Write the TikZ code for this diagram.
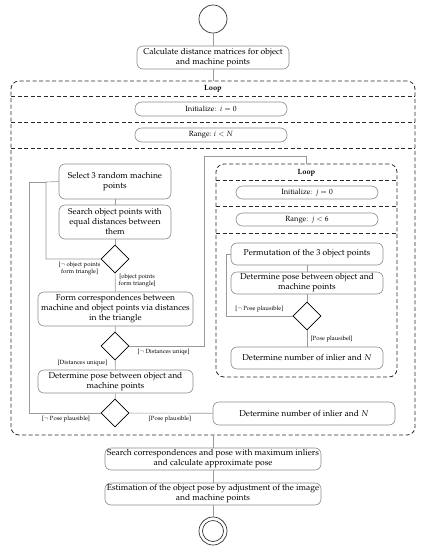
\documentclass[tikz,border=0pt]{standalone}
\usepackage[T1]{fontenc}
\usepackage{mathpazo}
\usetikzlibrary{shapes.geometric,calc}
\definecolor{lin}{HTML}{9A9A9A}
\definecolor{bor}{HTML}{8C8C8C}
\definecolor{dsh}{HTML}{2A2A2A}
\tikzset{
  act/.style={draw=bor, line width=0.6pt, rounded corners=6pt, fill=white, align=center,
    font=\fontsize{8.5}{10}\selectfont, inner sep=1pt},
  pill/.style={draw=bor, line width=0.6pt, rounded corners=6.5pt, fill=white, align=center,
    font=\fontsize{7.5}{9}\selectfont, inner sep=1pt, minimum height=14},
  loopbox/.style={draw=dsh, line width=0.8pt, dash pattern=on 4pt off 2.5pt, rounded corners=8pt, inner sep=0pt},
  sepline/.style={draw=dsh, line width=0.8pt, dash pattern=on 4pt off 2.5pt},
  dec/.style={diamond, draw=black, line width=0.7pt, fill=white, inner sep=0pt, minimum width=28, minimum height=28},
  conn/.style={draw=lin, line width=0.6pt},
  guard/.style={font=\fontsize{6}{7.5}\selectfont, align=center, inner sep=0.5pt},
  ttl/.style={font=\fontsize{7.5}{9}\selectfont\bfseries, inner sep=0pt},
  ring/.style={circle, draw=black!80, line width=0.7pt, inner sep=0pt},
}
\begin{document}
\begin{tikzpicture}[x=1pt,y=-1pt]
\useasboundingbox (0,0) rectangle (425,550);
% start / end
\node[ring, minimum size=28] (start) at (213,19) {};
\node[ring, minimum size=28] (end) at (213,531) {};
\node[ring, minimum size=21] (endin) at (213,531) {};

\node[act, minimum width=152, minimum height=23] (calc) at (213,57.5) {Calculate distance matrices for object\\and machine points};

% outer loop
\node[loopbox, minimum width=404, minimum height=354] (outer) at (213,258) {};
\node[ttl] (outerttl) at (213,89) {Loop};
\draw[sepline] (11,96) -- (415,96);
\draw[sepline] (11,122) -- (415,122);
\draw[sepline] (11,148) -- (415,148);
\node[pill, minimum width=152] (initi) at (211,109) {Initialize:\ \ $i=0$};
\node[pill, minimum width=152] (rangei) at (211,135) {Range: $i<N$};

% left branch
\node[act, minimum width=112, minimum height=35] (sel) at (115,181.5) {Select 3 random machine\\points};
\node[act, minimum width=112, minimum height=34] (srch) at (115,222) {Search object points with\\equal distances between\\them};
\node[dec] (d1) at (115,259) {};
\node[act, minimum width=155, minimum height=34] (form) at (115.5,309) {Form correspondences between\\machine and object points via distances\\in the triangle};
\node[dec] (d2) at (115,346) {};
\node[act, minimum width=155, minimum height=23] (pose) at (115.5,381.5) {Determine pose between object and\\machine points};
\node[dec] (d3) at (115,413) {};
\node[act, minimum width=182, minimum height=23] (detR) at (304,413.5) {Determine number of inlier and $N$};

% inner loop
\node[loopbox, minimum width=181, minimum height=213] (inner) at (306.5,270.5) {};
\node[ttl] (innerttl) at (306.5,173) {Loop};
\draw[sepline] (216,180) -- (397,180);
\draw[sepline] (216,206) -- (397,206);
\draw[sepline] (216,233) -- (397,233);
\node[pill, minimum width=142, minimum height=13] (initj) at (307,192.5) {Initialize:\ \ $j=0$};
\node[pill, minimum width=142, minimum height=13] (rangej) at (307,219.5) {Range:\ \ $j<6$};
\node[act, minimum width=152, minimum height=22] (perm) at (307,254) {Permutation of the 3 object points};
\node[act, minimum width=152, minimum height=22] (poseI) at (307,283) {Determine pose between object and\\machine points};
\node[dec] (d4) at (307,316) {};
\node[act, minimum width=152, minimum height=22] (detI) at (307,358) {Determine number of inlier and $N$};

% bottom
\node[act, minimum width=216, minimum height=22] (srchC) at (213,459) {Search correspondences and pose with maximum inliers\\and calculate approximate pose};
\node[act, minimum width=216, minimum height=22] (est) at (213,494) {Estimation of the object pose by adjustment of the image\\and machine points};

% coordinates
\coordinate (l1) at (46,182);
\coordinate (l2) at (29,182);
\coordinate (r1) at (204,156);
\coordinate (l3) at (226,254);

% connectors
\draw[conn] (start) -- (calc);
\draw[conn] (calc) -- (outer.north);
\draw[conn] (outer.south) -- (srchC);
\draw[conn] (srchC) -- (est);
\draw[conn] (est) -- (end);
\draw[conn] (sel) -- (srch);
\draw[conn] (srch) -- (d1);
\draw[conn] (d1) -- (form);
\draw[conn] (form) -- (d2);
\draw[conn] (d2) -- (pose);
\draw[conn] (pose) -- (d3);
\draw[conn] (d3) -- (detR);
\draw[conn] (d1.west) -| (l1) -- (sel.west);
\draw[conn] (d3.west) -| (l2) -- (l1);
\draw[conn] (d2.east) -| (r1) -| (inner.north);
\draw[conn] (perm) -- (poseI);
\draw[conn] (poseI) -- (d4);
\draw[conn] (d4) -- (detI);
\draw[conn] (d4.west) -| (l3) -- (perm.west);

% guards
\node[guard, anchor=north east] (g1) at (101,261) {[$\neg$ object points\\form triangle]};
\node[guard, anchor=north west] (g2) at (118,273) {[object points\\form triangle]};
\node[guard, anchor=east] (g3) at (108,363) {[Distances unique]};
\node[guard, anchor=west] (g4) at (137,352) {[$\neg$ Distances uniqe]};
\node[guard] (g5) at (66,419) {[$\neg$ Pose plausible]};
\node[guard] (g6) at (170,419) {[Pose plausible]};
\node[guard, anchor=east] (g7) at (284,309) {[$\neg$ Pose plausible]};
\node[guard, anchor=west] (g8) at (310,339) {[Pose plausibel]};
\end{tikzpicture}
\end{document}
